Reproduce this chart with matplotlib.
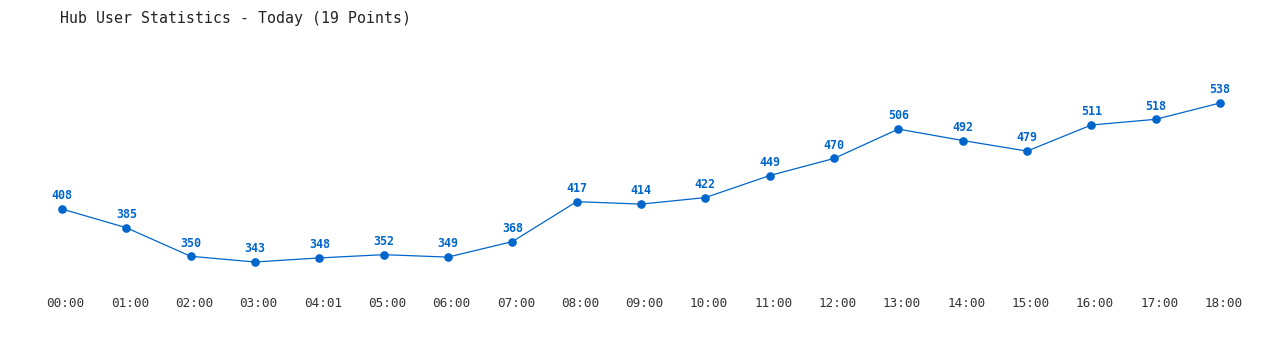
import matplotlib
matplotlib.use("Agg")
import matplotlib.pyplot as plt
from matplotlib.transforms import ScaledTranslation

labels = ["00:00", "01:00", "02:00", "03:00", "04:01", "05:00", "06:00", "07:00",
          "08:00", "09:00", "10:00", "11:00", "12:00", "13:00", "14:00", "15:00",
          "16:00", "17:00", "18:00"]
values = [408, 385, 350, 343, 348, 352, 349, 368, 417, 414, 422, 449, 470,
          506, 492, 479, 511, 518, 538]
title = "Hub User Statistics - Today (19 Points)"

W, H = 1280, 350
fig = plt.figure(figsize=(W / 100, H / 100), dpi=100)
left, right = 62 / W, 1220 / W
bottom, top = 1 - 262 / H, 1 - 103 / H
ax = fig.add_axes([left, bottom, right - left, top - bottom])

color = "#0066CC"
x = list(range(len(values)))
ax.plot(x, values, color=color, lw=0.9, marker="o", ms=5.2, clip_on=False)
for xi, v in zip(x, values):
    ax.annotate(str(v), (xi, v), xytext=(0, 9.5), textcoords="offset points",
                ha="center", va="center", fontsize=8.4, fontweight="bold",
                color=color, family="DejaVu Sans Mono")

ax.set_xlim(0, len(values) - 1)
ax.set_ylim(min(values), max(values))
ax.set_xticks(x)
ax.set_xticklabels(labels, family="DejaVu Sans Mono", fontsize=9.1, color="#333333")
ax.tick_params(axis="x", length=0, pad=25)
shift = ScaledTranslation(3.5 / 100, 0, fig.dpi_scale_trans)
for lbl in ax.get_xticklabels():
    lbl.set_transform(lbl.get_transform() + shift)
ax.set_yticks([])
for s in ax.spines.values():
    s.set_visible(False)

fig.text(60 / W, 1 - 18 / H, title, ha="left", va="center",
         family="DejaVu Sans Mono", fontsize=10.7, color="#222222")

fig.savefig("out.png", dpi=100)
